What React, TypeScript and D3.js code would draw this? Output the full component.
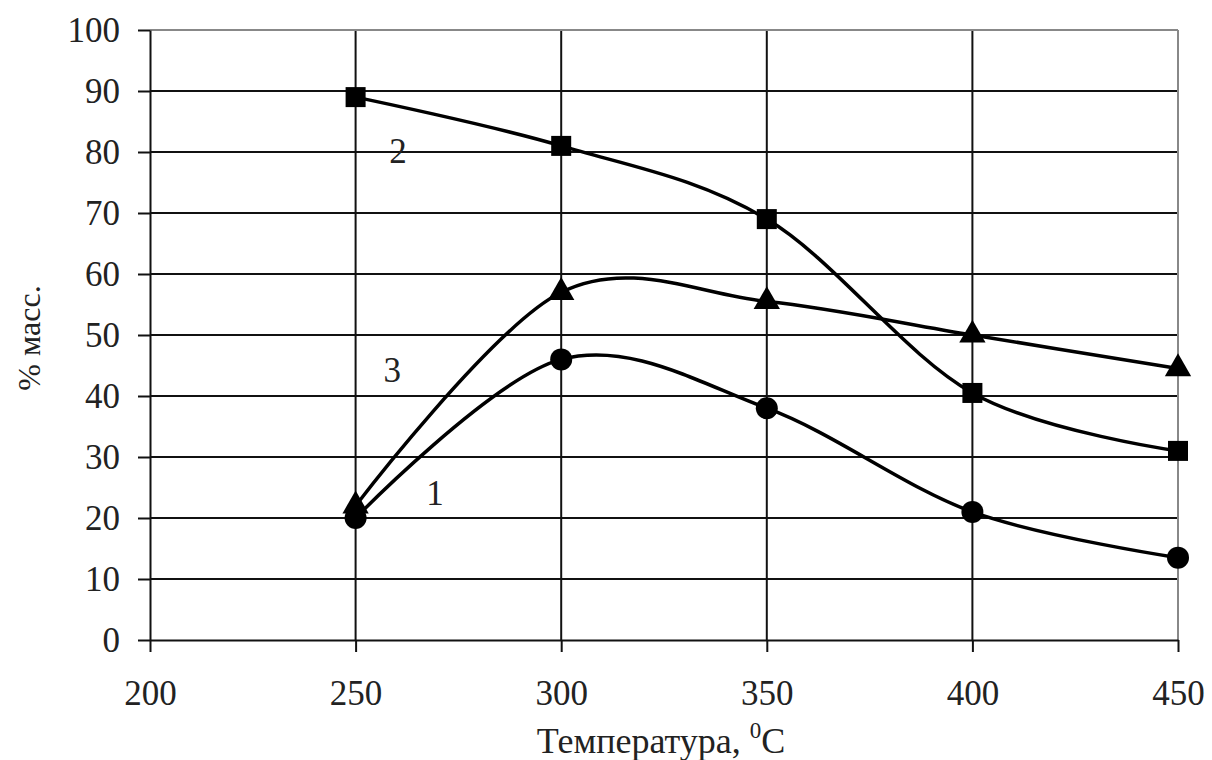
import React, { useEffect, useRef } from "react";
import * as d3 from "d3";

const temps = [250, 300, 350, 400, 450];
const series1 = [20, 46, 38, 21, 13.5];
const series2 = [89, 81, 69, 40.5, 31];
const series3 = [22, 57, 55.5, 50, 44.5];
const xTicks = [200, 250, 300, 350, 400, 450];
const yTicks = [0, 10, 20, 30, 40, 50, 60, 70, 80, 90, 100];
const curveLabels = [
  { text: "2", t: 260.3, v: 78.2 },
  { text: "3", t: 258.9, v: 42.3 },
  { text: "1", t: 269.3, v: 22.1 },
];

export default function App() {
  const ref = useRef<SVGSVGElement>(null);

  useEffect(() => {
    const width = 1212;
    const height = 760;
    const svg = d3.select(ref.current);
    svg.selectAll("*").remove();

    const x = d3.scaleLinear().domain([200, 450]).range([150, 1178]);
    const y = d3.scaleLinear().domain([0, 100]).range([640, 30]);
    const font = "'Liberation Serif', 'Times New Roman', serif";

    svg.append("rect").attr("width", width).attr("height", height).attr("fill", "#fff");

    // grid
    const grid = svg.append("g");
    grid.selectAll(".hg").data(yTicks.slice(1, -1)).join("line")
      .attr("x1", x(200)).attr("x2", x(450))
      .attr("y1", (d) => y(d)).attr("y2", (d) => y(d))
      .attr("stroke", "#111").attr("stroke-width", 2);
    grid.selectAll(".vg").data(xTicks.slice(1, -1)).join("line")
      .attr("x1", (d) => x(d)).attr("x2", (d) => x(d))
      .attr("y1", y(0)).attr("y2", y(100))
      .attr("stroke", "#111").attr("stroke-width", 2);
    // border top/right (gray)
    grid.append("line").attr("x1", x(200)).attr("x2", x(450)).attr("y1", y(100)).attr("y2", y(100))
      .attr("stroke", "#888").attr("stroke-width", 2);
    grid.append("line").attr("x1", x(450)).attr("x2", x(450)).attr("y1", y(100)).attr("y2", y(0))
      .attr("stroke", "#888").attr("stroke-width", 2);

    // axes
    const yAxis = svg.append("g").attr("transform", `translate(${x(200)},0)`)
      .call(d3.axisLeft(y).tickValues(yTicks).tickSize(12).tickSizeOuter(0).tickPadding(18));
    const xAxis = svg.append("g").attr("transform", `translate(0,${y(0)})`)
      .call(d3.axisBottom(x).tickValues(xTicks).tickSize(12).tickSizeOuter(0).tickPadding(28));
    [yAxis, xAxis].forEach((g) => {
      g.select(".domain").attr("stroke", "#111").attr("stroke-width", 2);
      g.selectAll(".tick line").attr("stroke", "#111").attr("stroke-width", 2);
      g.selectAll(".tick text").attr("fill", "#222").attr("font-family", font).attr("font-size", 35);
    });
    xAxis.selectAll(".tick text").attr("dy", "0.71em");

    const line = d3.line<number>()
      .x((_, i) => x(temps[i]))
      .y((d) => y(d))
      .curve(d3.curveCatmullRom.alpha(0));

    [series1, series2, series3].forEach((s) => {
      svg.append("path").attr("d", line(s)).attr("fill", "none")
        .attr("stroke", "#000").attr("stroke-width", 3.5);
    });

    // markers
    svg.selectAll(".c").data(series1).join("circle")
      .attr("cx", (_, i) => x(temps[i])).attr("cy", (d) => y(d)).attr("r", 11).attr("fill", "#000");
    svg.selectAll(".s").data(series2).join("rect")
      .attr("x", (_, i) => x(temps[i]) - 10).attr("y", (d) => y(d) - 10)
      .attr("width", 20).attr("height", 20).attr("fill", "#000");
    const tri = d3.symbol().type(d3.symbolTriangle).size(300);
    svg.selectAll(".t").data(series3).join("path")
      .attr("d", tri())
      .attr("transform", (d, i) => `translate(${x(temps[i])},${y(d)})`)
      .attr("fill", "#000");

    // curve labels
    svg.selectAll(".lbl").data(curveLabels).join("text")
      .attr("x", (d) => x(d.t)).attr("y", (d) => y(d.v))
      .attr("text-anchor", "middle").attr("font-family", font).attr("font-size", 35)
      .attr("fill", "#222").text((d) => d.text);

    // axis titles
    const xt = svg.append("text").attr("x", 661).attr("y", 753).attr("text-anchor", "middle")
      .attr("font-family", font).attr("font-size", 36).attr("fill", "#222");
    xt.append("tspan").text("Температура, ");
    xt.append("tspan").attr("font-size", 23).attr("dy", -15).text("0");
    xt.append("tspan").attr("dy", 15).text("C");

    svg.append("text").attr("transform", `translate(40,338) rotate(-90)`)
      .attr("text-anchor", "middle").attr("font-family", font).attr("font-size", 32)
      .attr("fill", "#222").text("% масс.");
  }, []);

  return <svg ref={ref} width={1212} height={760} style={{ display: "block", position: "absolute", left: 0, top: 0 }} />;
}
